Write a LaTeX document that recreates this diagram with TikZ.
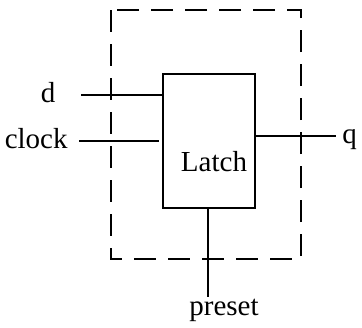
\documentclass[tikz,border=0pt]{standalone}
\usepackage{fontspec}
\setmainfont{Liberation Serif}
\begin{document}
\begin{tikzpicture}[x=0.5pt,y=-0.5pt,
  wire/.style={line width=1pt},
  lbl/.style={font=\fontsize{14.5}{16}\selectfont, inner sep=0pt},
  boundary/.style={line width=1pt, dash pattern=on 11pt off 6pt},
  latchbox/.style={draw, line width=1pt, minimum width=46pt, minimum height=67pt, inner sep=0pt}]
\useasboundingbox (0,0) rectangle (362,327);
\draw[boundary] (111,10) rectangle (301,259);
\node[latchbox] (latch) at (209,141) {};
\node[lbl] (latchtext) at (214,162) {Latch};
\node[lbl, anchor=base] (d) at (48,102) {d};
\node[lbl, anchor=base east] (clock) at (68,148) {clock};
\node[lbl, anchor=base west] (q) at (342,143) {q};
\node[lbl, anchor=base] (preset) at (224,315) {preset};
\coordinate (dend) at (81,95);
\coordinate (cend) at (79,141);
\coordinate (qend) at (336,136);
\coordinate (pend) at (208,297);
\draw[wire] (dend) -- (dend -| latch.west);
\draw[wire] (cend) -- ([xshift=-1.5pt]cend -| latch.west);
\draw[wire] (latch.east |- qend) -- (qend);
\draw[wire] (pend |- latch.south) -- (pend);
\end{tikzpicture}
\end{document}
